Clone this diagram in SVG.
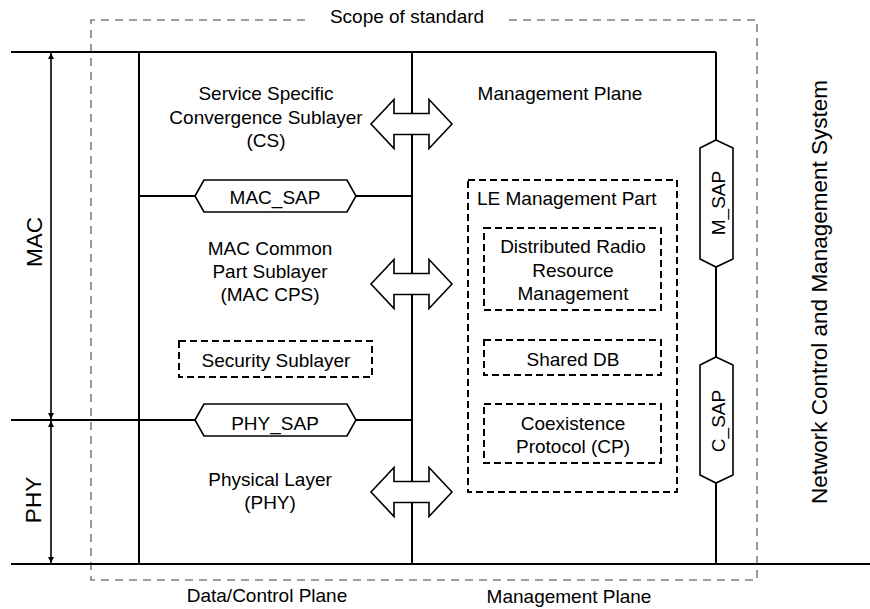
<svg xmlns="http://www.w3.org/2000/svg" width="870" height="609" viewBox="0 0 870 609">
  <style>
    .t { font-family: "Liberation Sans", Arial, sans-serif; font-size: 19px; fill: #000; text-anchor: middle; }
    .big { font-size: 22.5px; }
    .ln { stroke: #000; stroke-width: 2; fill: none; }
    .scope { stroke: #808080; stroke-width: 1.6; fill: none; stroke-dasharray: 8 6; }
    .dbox { stroke: #000; stroke-width: 2; fill: none; stroke-dasharray: 7 4; }
    .sap { stroke: #000; stroke-width: 1.6; fill: #fff; }
    .darrow { stroke: #000; stroke-width: 1.6; fill: #fff; }
    .dim { stroke: #000; stroke-width: 1.6; fill: none; marker-start: url(#tip); marker-end: url(#tip); }
  </style>
  <defs>
    <marker id="tip" viewBox="0 0 10 10" refX="10" refY="5" markerWidth="6" markerHeight="6" markerUnits="userSpaceOnUse" orient="auto-start-reverse">
      <path d="M0,0 L10,5 L0,10 z" fill="#000"/>
    </marker>
  </defs>

  <rect width="870" height="609" fill="#fff"/>

  <!-- scope of standard -->
  <g id="scope">
    <path class="scope" d="M305,20 H91 V580 H757 V20 H509"/>
    <text class="t" x="407" y="23">Scope of standard</text>
  </g>

  <!-- layer boundaries and interfaces -->
  <g id="connectors">
    <line class="ln" x1="11" y1="52" x2="716" y2="52"/>
    <line class="ln" x1="11" y1="564" x2="870" y2="564"/>
    <line class="ln" x1="11" y1="420" x2="412" y2="420"/>
    <line class="ln" x1="139" y1="196" x2="412" y2="196"/>
    <line class="ln" x1="139" y1="52" x2="139" y2="564"/>
    <line class="ln" x1="412" y1="52" x2="412" y2="564"/>
    <line class="ln" x1="716" y1="52" x2="716" y2="564"/>
    <line class="dim" x1="51" y1="53" x2="51" y2="419"/>
    <line class="dim" x1="51" y1="421" x2="51" y2="563"/>
    <!-- double-headed service arrows, drawn over the plane divider -->
    <polygon class="darrow" transform="translate(412,124)" points="-41,0 -18,-24.5 -18,-10.5 17,-10.5 17,-24.5 40,0 17,24.5 17,10.5 -18,10.5 -18,24.5"/>
    <polygon class="darrow" transform="translate(412,284)" points="-41,0 -18,-24.5 -18,-10.5 17,-10.5 17,-24.5 40,0 17,24.5 17,10.5 -18,10.5 -18,24.5"/>
    <polygon class="darrow" transform="translate(412,492)" points="-41,0 -18,-24.5 -18,-10.5 17,-10.5 17,-24.5 40,0 17,24.5 17,10.5 -18,10.5 -18,24.5"/>
  </g>

  <g id="mac-label">
    <text class="t big" transform="translate(42,242) rotate(-90)">MAC</text>
  </g>
  <g id="phy-label">
    <text class="t big" transform="translate(41,500) rotate(-90)">PHY</text>
  </g>

  <g id="cs">
    <text class="t" x="266" y="100">Service Specific</text>
    <text class="t" x="266" y="124">Convergence Sublayer</text>
    <text class="t" x="266" y="147">(CS)</text>
  </g>

  <g id="mac-sap">
    <polygon class="sap" points="195,196 204,180 347,180 356,196 347,212 204,212"/>
    <text class="t" x="275" y="204">MAC_SAP</text>
  </g>

  <g id="mac-cps">
    <text class="t" x="270" y="255">MAC Common</text>
    <text class="t" x="270" y="278">Part Sublayer</text>
    <text class="t" x="270" y="301">(MAC CPS)</text>
  </g>

  <g id="security">
    <rect class="dbox" x="179" y="341" width="193" height="36"/>
    <text class="t" x="276" y="367">Security Sublayer</text>
  </g>

  <g id="phy-sap">
    <polygon class="sap" points="195,420 204,404 347,404 356,420 347,436 204,436"/>
    <text class="t" x="275" y="430">PHY_SAP</text>
  </g>

  <g id="phy">
    <text class="t" x="270" y="486">Physical Layer</text>
    <text class="t" x="270" y="509">(PHY)</text>
  </g>

  <g id="mgmt-plane">
    <text class="t" x="560" y="100">Management Plane</text>
  </g>

  <g id="le-mgmt">
    <rect class="dbox" x="468" y="180" width="209" height="312"/>
    <text class="t" x="477" y="205" style="text-anchor:start">LE Management  Part</text>
  </g>

  <g id="drrm">
    <rect class="dbox" x="484" y="228" width="177" height="82"/>
    <text class="t" x="573" y="253">Distributed Radio</text>
    <text class="t" x="573" y="277">Resource</text>
    <text class="t" x="573" y="300">Management</text>
  </g>

  <g id="shared-db">
    <rect class="dbox" x="484" y="340" width="177" height="35"/>
    <text class="t" x="573" y="366">Shared DB</text>
  </g>

  <g id="cp">
    <rect class="dbox" x="484" y="404" width="177" height="59"/>
    <text class="t" x="573" y="430">Coexistence</text>
    <text class="t" x="573" y="453">Protocol (CP)</text>
  </g>

  <g id="m-sap">
    <polygon class="sap" points="716,140 733,148 733,259 716,267 700,259 700,148"/>
    <text class="t" transform="translate(725,203) rotate(-90)">M_SAP</text>
  </g>

  <g id="c-sap">
    <polygon class="sap" points="716,357 733,365 733,475 716,483 700,475 700,365"/>
    <text class="t" transform="translate(725,421) rotate(-90)">C_SAP</text>
  </g>

  <g id="ncms">
    <text class="t big" transform="translate(827,292) rotate(-90)">Network Control and Management System</text>
  </g>

  <g id="plane-labels">
    <text class="t" x="267" y="602">Data/Control Plane</text>
    <text class="t" x="569" y="603">Management Plane</text>
  </g>
</svg>
